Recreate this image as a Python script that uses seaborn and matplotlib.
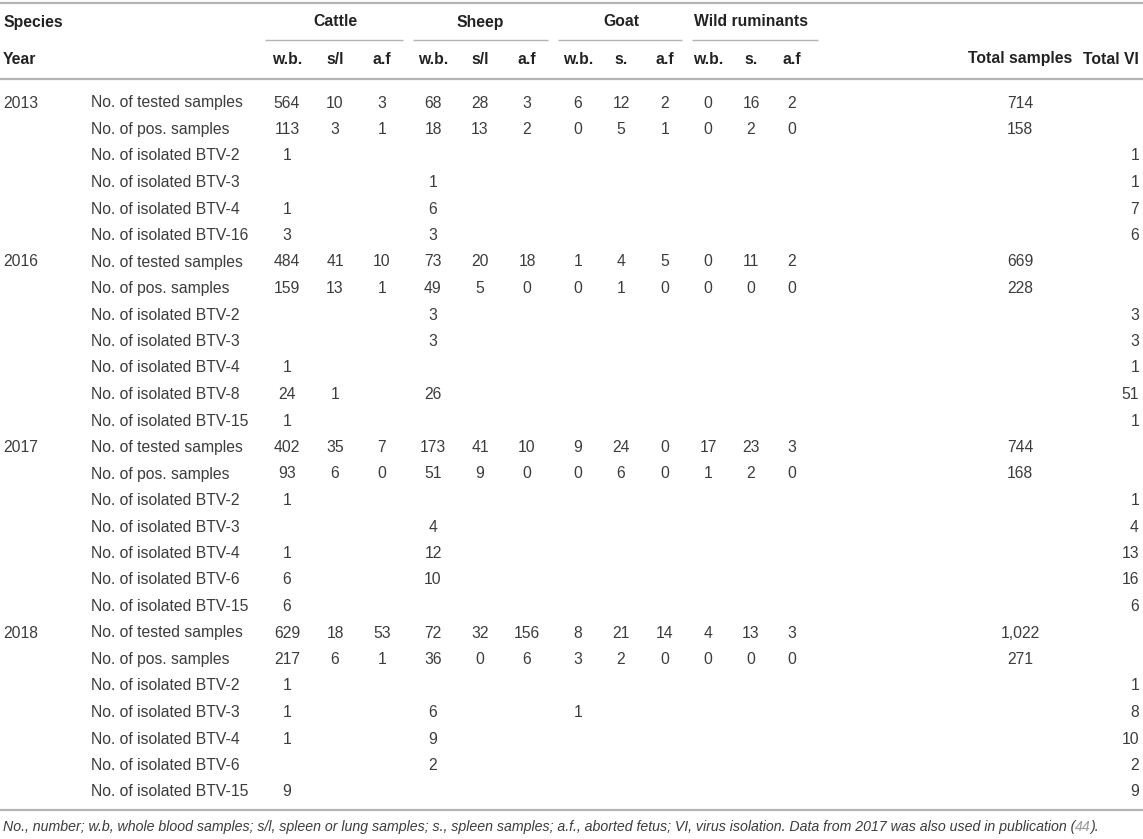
import matplotlib
matplotlib.use("Agg")
import matplotlib.pyplot as plt
import seaborn as sns
import pandas as pd

sns.set_theme(style="white")
plt.rcParams["font.family"] = ["Liberation Sans", "DejaVu Sans"]

# -----------------------------
# Table content
# -----------------------------
years = ["2013", "2016", "2017", "2018"]
row_labels = [
    ["No. of tested samples", "No. of pos. samples", "No. of isolated BTV-2",
     "No. of isolated BTV-3", "No. of isolated BTV-4", "No. of isolated BTV-16"],
    ["No. of tested samples", "No. of pos. samples", "No. of isolated BTV-2",
     "No. of isolated BTV-3", "No. of isolated BTV-4", "No. of isolated BTV-8",
     "No. of isolated BTV-15"],
    ["No. of tested samples", "No. of pos. samples", "No. of isolated BTV-2",
     "No. of isolated BTV-3", "No. of isolated BTV-4", "No. of isolated BTV-6",
     "No. of isolated BTV-15"],
    ["No. of tested samples", "No. of pos. samples", "No. of isolated BTV-2",
     "No. of isolated BTV-3", "No. of isolated BTV-4", "No. of isolated BTV-6",
     "No. of isolated BTV-15"],
]
species = ["Cattle", "Sheep", "Goat", "Wild ruminants"]
sample_types = [["w.b.", "s/l", "a.f"], ["w.b.", "s/l", "a.f"],
                ["w.b.", "s.", "a.f"], ["w.b.", "s.", "a.f"]]

cattle_wb = ["564", "113", "1", "", "1", "3",
             "484", "159", "", "", "1", "24", "1",
             "402", "93", "1", "", "1", "6", "6",
             "629", "217", "1", "1", "1", "", "9"]
cattle_sl = ["10", "3", "", "", "", "",
             "41", "13", "", "", "", "1", "",
             "35", "6", "", "", "", "", "",
             "18", "6", "", "", "", "", ""]
cattle_af = ["3", "1", "", "", "", "",
             "10", "1", "", "", "", "", "",
             "7", "0", "", "", "", "", "",
             "53", "1", "", "", "", "", ""]
sheep_wb = ["68", "18", "", "1", "6", "3",
            "73", "49", "3", "3", "", "26", "",
            "173", "51", "", "4", "12", "10", "",
            "72", "36", "", "6", "9", "2", ""]
sheep_sl = ["28", "13", "", "", "", "",
            "20", "5", "", "", "", "", "",
            "41", "9", "", "", "", "", "",
            "32", "0", "", "", "", "", ""]
sheep_af = ["3", "2", "", "", "", "",
            "18", "0", "", "", "", "", "",
            "10", "0", "", "", "", "", "",
            "156", "6", "", "", "", "", ""]
goat_wb = ["6", "0", "", "", "", "",
           "1", "0", "", "", "", "", "",
           "9", "0", "", "", "", "", "",
           "8", "3", "", "1", "", "", ""]
goat_s = ["12", "5", "", "", "", "",
          "4", "1", "", "", "", "", "",
          "24", "6", "", "", "", "", "",
          "21", "2", "", "", "", "", ""]
goat_af = ["2", "1", "", "", "", "",
           "5", "0", "", "", "", "", "",
           "0", "0", "", "", "", "", "",
           "14", "0", "", "", "", "", ""]
wild_wb = ["0", "0", "", "", "", "",
           "0", "0", "", "", "", "", "",
           "17", "1", "", "", "", "", "",
           "4", "0", "", "", "", "", ""]
wild_s = ["16", "2", "", "", "", "",
          "11", "0", "", "", "", "", "",
          "23", "2", "", "", "", "", "",
          "13", "0", "", "", "", "", ""]
wild_af = ["2", "0", "", "", "", "",
           "2", "0", "", "", "", "", "",
           "3", "0", "", "", "", "", "",
           "3", "0", "", "", "", "", ""]
total_samples = ["714", "158", "", "", "", "",
                 "669", "228", "", "", "", "", "",
                 "744", "168", "", "", "", "", "",
                 "1,022", "271", "", "", "", "", ""]
total_vi = ["", "", "1", "1", "7", "6",
            "", "", "3", "3", "1", "51", "1",
            "", "", "1", "4", "13", "16", "6",
            "", "", "1", "8", "10", "2", "9"]

footnote = ("No., number; w.b, whole blood samples; s/l, spleen or lung samples; "
            "s., spleen samples; a.f., aborted fetus; VI, virus isolation. "
            "Data from 2017 was also used in publication (")
footnote_ref = "44"
footnote_end = ")."

value_cols = [cattle_wb, cattle_sl, cattle_af, sheep_wb, sheep_sl, sheep_af,
              goat_wb, goat_s, goat_af, wild_wb, wild_s, wild_af]

# build a flat table
rows = []
for y, labels in zip(years, row_labels):
    for i, lab in enumerate(labels):
        rows.append({"year": y if i == 0 else "", "label": lab})
df = pd.DataFrame(rows)
for k, col in enumerate(value_cols):
    df[f"v{k}"] = col
df["total_samples"] = total_samples
df["total_vi"] = total_vi

# -----------------------------
# Layout (pixels)
# -----------------------------
W, H = 1143, 839
col_x = [287, 335, 382, 433, 480, 527, 578, 621, 665, 708, 751, 792]
x_year, x_label = 3, 91
x_total, x_vi = 1020, 1139
y_species, y_under, y_year, y_rule = 22, 40, 59, 79
y_first, row_h = 103, 26.5

text_c = "#3c3c3c"
head_c = "#222222"
rule_c = "#b4b4b4"
fs = 11.3

fig = plt.figure(figsize=(W / 100, H / 100), dpi=100)
ax = fig.add_axes([0, 0, 1, 1])
ax.set_xlim(0, W)
ax.set_ylim(H, 0)
ax.axis("off")

# rules
ax.hlines(3, 0, W, color=rule_c, lw=1.6)
ax.hlines(y_rule, 0, W, color=rule_c, lw=1.6)
y_bottom = y_first + (len(df) - 1) * row_h + 18
ax.hlines(y_bottom, 0, W, color=rule_c, lw=1.6)

# header
ax.text(x_year, y_species, "Species", fontsize=fs, weight="bold", color=head_c, va="center")
ax.text(x_year, y_year, "Year", fontsize=fs, weight="bold", color=head_c, va="center")
bounds = [265, (382 + 433) / 2, (527 + 578) / 2, (665 + 708) / 2, 818]
for g, name in enumerate(species):
    xs = col_x[g * 3:g * 3 + 3]
    ax.text(xs[1], y_species, name, fontsize=fs, weight="bold", color=head_c,
            ha="center", va="center")
    left = bounds[g] + (0 if g == 0 else 5)
    right = bounds[g + 1] - (0 if g == 3 else 5)
    ax.hlines(y_under, left, right, color=rule_c, lw=1.0)
    for x, st in zip(xs, sample_types[g]):
        ax.text(x, y_year, st, fontsize=fs, weight="bold", color=head_c,
                ha="center", va="center")
ax.text(x_total, y_year, "Total samples", fontsize=fs, weight="bold", color=head_c,
        ha="center", va="center")
ax.text(x_vi, y_year, "Total VI", fontsize=fs, weight="bold", color=head_c,
        ha="right", va="center")

# body
for i, r in df.iterrows():
    y = y_first + i * row_h
    ax.text(x_year, y, r["year"], fontsize=fs, color=text_c, va="center")
    ax.text(x_label, y, r["label"], fontsize=fs, color=text_c, va="center")
    for k, x in enumerate(col_x):
        ax.text(x, y, r[f"v{k}"], fontsize=fs, color=text_c, ha="center", va="center")
    ax.text(x_total, y, r["total_samples"], fontsize=fs, color=text_c, ha="center", va="center")
    ax.text(x_vi, y, r["total_vi"], fontsize=fs, color=text_c, ha="right", va="center")

# footnote (reference number in lighter grey)
y_foot = y_bottom + 17
renderer = fig.canvas.get_renderer()
x = x_year
for part, c in [(footnote, text_c), (footnote_ref, "#9a9a9a"), (footnote_end, text_c)]:
    t = ax.text(x, y_foot, part, fontsize=10.2, style="italic", color=c, va="center")
    bb = t.get_window_extent(renderer=renderer)
    x = x + bb.width * W / fig.bbox.width - 0.5

fig.savefig("out.png", dpi=100)
